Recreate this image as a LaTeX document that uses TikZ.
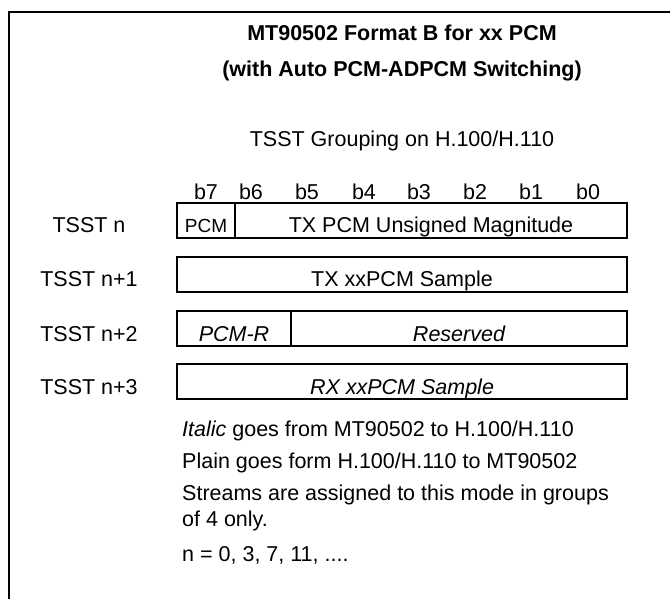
\documentclass[tikz,border=0pt]{standalone}
\usepackage{fontspec}
\setmainfont{Liberation Sans}
\usetikzlibrary{positioning}
\newcommand{\field}[4] {
    \node[field,minimum width={#3}] (#1) at ({#2}) {#4};
}
\begin{document}
\begin{tikzpicture}[
        x=1pt,y=-1pt,
        txt/.style={font=\fontsize{21.5}{24}\selectfont,inner sep=0pt},
        field/.style={
            draw,
            line width=1.5pt,
            text height=30pt,
            text depth=5pt,
            inner sep=0pt,
            outer sep=0pt,
            txt
        },
        rowname/.style={txt,anchor=base},
        note/.style={txt,anchor=base west}
    ]
    \useasboundingbox (0,0) rectangle (670,599);
    % frame
    \draw[line width=2pt] (670,12) -- (9,12) -- (9,599);
    % headings
    \node[txt,anchor=base,font=\fontsize{21.5}{24}\selectfont\bfseries] (title) at (402,41) {MT90502 Format B for xx PCM};
    \node[txt,anchor=base,font=\fontsize{21.5}{24}\selectfont\bfseries] (subtitle) at (402,77) {(with Auto PCM-ADPCM Switching)};
    \node[txt,anchor=base] (grouping) at (402,147) {TSST Grouping on H.100/H.110};
    % bit numbers
    \foreach \b/\x in {7/206,6/251,5/307,4/364,3/419,2/475,1/531,0/588}
        \node[txt,anchor=base] (bit\b) at (\x,200) {b\b};
    % rows
    \field{pcm}{206,220.5}{58pt}{\fontsize{19}{21}\selectfont PCM}
    \node[field,minimum width=392pt,right=0pt of pcm] (mag) {TX PCM Unsigned Magnitude};
    \field{txs}{402,274.5}{450pt}{TX xxPCM Sample}
    \field{pcmr}{234,328.5}{114pt}{\itshape PCM-R}
    \node[field,minimum width=336pt,right=0pt of pcmr] (rsv) {\itshape Reserved};
    \field{rxs}{402,381.5}{450pt}{\itshape RX xxPCM Sample}
    % row names
    \node[rowname] (rowA) at (89,233) {TSST n};
    \node[rowname] (rowB) at (89,287) {TSST n+1};
    \node[rowname] (rowC) at (89,341) {TSST n+2};
    \node[rowname] (rowD) at (89,394) {TSST n+3};
    % notes
    \node[note] (noteA) at (182,436) {\itshape Italic\upshape{} goes from MT90502 to H.100/H.110};
    \node[note] (noteB) at (182,468) {Plain goes form H.100/H.110 to MT90502};
    \node[note] (noteC) at (182,500) {Streams are assigned to this mode in groups};
    \node[note] (noteD) at (182,526) {of 4 only.};
    \node[note] (noteE) at (182,561) {n = 0, 3, 7, 11, ....};
\end{tikzpicture}
\end{document}
